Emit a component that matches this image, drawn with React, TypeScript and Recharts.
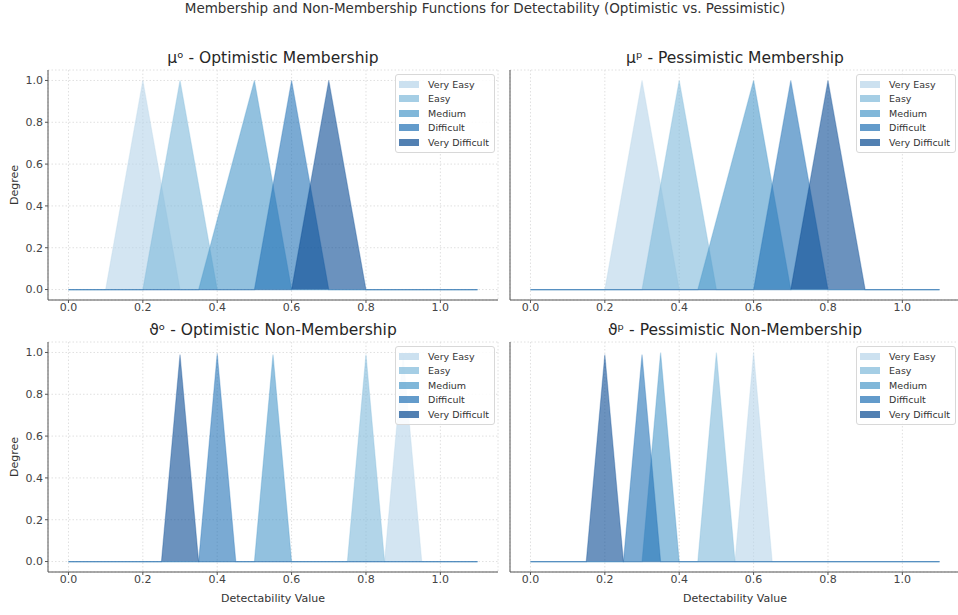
import React from "react";
import {
  ComposedChart,
  Area,
  XAxis,
  YAxis,
  CartesianGrid,
  Legend,
} from "recharts";

const FONT = "'DejaVu Sans', Verdana, sans-serif";

const LEVELS = ["Very Easy", "Easy", "Medium", "Difficult", "Very Difficult"];
// Blues colormap sampled from 0.3 to 0.9, drawn with alpha 0.6
const LEVEL_COLORS = ["#b6d4e9", "#7fb9da", "#4a98c9", "#2171b5", "#084a92"];
const FILL_ALPHA = 0.6;

const X_TICKS = [0, 0.2, 0.4, 0.6, 0.8, 1.0];
const Y_TICKS = [0, 0.2, 0.4, 0.6, 0.8, 1.0];
const X_START = 0;
const X_END = 1.1;

// triangles per level: [left foot, peak, right foot]
const OPT_MEMBERSHIP = [
  [0.1, 0.2, 0.3],
  [0.2, 0.3, 0.4],
  [0.35, 0.5, 0.6],
  [0.5, 0.6, 0.7],
  [0.6, 0.7, 0.8],
];
const OPT_MEMBERSHIP_PEAKS = [1, 1, 1, 1, 1];

const PES_MEMBERSHIP = [
  [0.2, 0.3, 0.4],
  [0.3, 0.4, 0.5],
  [0.45, 0.6, 0.7],
  [0.6, 0.7, 0.8],
  [0.7, 0.8, 0.9],
];
const PES_MEMBERSHIP_PEAKS = [1, 1, 1, 1, 1];

const OPT_NON_MEMBERSHIP = [
  [0.85, 0.9, 0.95],
  [0.75, 0.8, 0.85],
  [0.5, 0.55, 0.6],
  [0.35, 0.4, 0.45],
  [0.25, 0.3, 0.35],
];
const OPT_NON_MEMBERSHIP_PEAKS = [0.99, 0.99, 0.99, 0.995, 0.99];

const PES_NON_MEMBERSHIP = [
  [0.55, 0.6, 0.65],
  [0.45, 0.5, 0.55],
  [0.3, 0.35, 0.4],
  [0.25, 0.3, 0.35],
  [0.15, 0.2, 0.25],
];
const PES_NON_MEMBERSHIP_PEAKS = [1, 1, 1, 0.99, 0.99];

function trianglePoints(tri: number[], peak: number) {
  const [l, p, r] = tri;
  return [
    { x: X_START, y: 0 },
    { x: l, y: 0 },
    { x: p, y: peak },
    { x: r, y: 0 },
    { x: X_END, y: 0 },
  ];
}

function LegendBox() {
  return (
    <div
      style={{
        border: "1px solid #d8d8d8",
        borderRadius: 3,
        background: "rgba(255,255,255,0.85)",
        padding: "2px 5px 2px 3px",
        fontFamily: FONT,
        fontSize: 9.5,
        color: "#333",
      }}
    >
      {LEVELS.map((name, i) => (
        <div key={name} style={{ display: "flex", alignItems: "center", height: 14.5 }}>
          <span
            style={{
              display: "inline-block",
              width: 20,
              height: 7,
              background: LEVEL_COLORS[i],
              opacity: FILL_ALPHA + 0.1,
              marginRight: 9,
            }}
          />
          <span>{name}</span>
        </div>
      ))}
    </div>
  );
}

interface PanelProps {
  title: string;
  triangles: number[][];
  peaks: number[];
  left: number;
  top: number;
  width: number;
  height: number;
  showYLabels: boolean;
  showXLabel: boolean;
}

function Panel({ title, triangles, peaks, left, top, width, height, showYLabels, showXLabel }: PanelProps) {
  const yAxisWidth = showYLabels ? 48 : 10;
  const xAxisHeight = showXLabel ? 43 : 30;
  const marginRight = showYLabels ? 2 : 0;
  const plotLeft = yAxisWidth;
  const plotRight = width - marginRight;
  const tickStyle = { fontSize: 11, fill: "#444", fontFamily: FONT };

  return (
    <div style={{ position: "absolute", left, top, width, height }}>
      <div
        style={{
          position: "absolute",
          left: plotLeft,
          width: plotRight - plotLeft,
          top: -11,
          textAlign: "center",
          fontFamily: FONT,
          fontSize: 15.5,
          lineHeight: "18px",
          color: "#262626",
        }}
      >
        {title}
      </div>
      <ComposedChart
        width={width}
        height={height}
        margin={{ top: 10, right: marginRight, left: 0, bottom: 0 }}
      >
        <CartesianGrid stroke="#e0e0e0" strokeDasharray="1.5 2" />
        <XAxis
          type="number"
          dataKey="x"
          domain={[-0.055, 1.155]}
          ticks={X_TICKS}
          tickFormatter={(v: number) => v.toFixed(1)}
          tick={tickStyle}
          tickSize={3}
          tickMargin={0}
          height={xAxisHeight}
          stroke="#555"
          allowDataOverflow
          label={
            showXLabel
              ? {
                  value: "Detectability Value",
                  position: "insideBottom",
                  offset: 13,
                  style: { fontSize: 11, fill: "#333", fontFamily: FONT },
                }
              : undefined
          }
        />
        <YAxis
          type="number"
          domain={[-0.05, 1.05]}
          ticks={Y_TICKS}
          tickFormatter={(v: number) => v.toFixed(1)}
          tick={showYLabels ? tickStyle : false}
          tickSize={3}
          tickMargin={2}
          width={yAxisWidth}
          stroke="#555"
          allowDataOverflow
          label={
            showYLabels
              ? {
                  value: "Degree",
                  angle: -90,
                  position: "insideLeft",
                  offset: 14,
                  style: { fontSize: 11, fill: "#333", fontFamily: FONT, textAnchor: "middle" },
                }
              : undefined
          }
        />
        {LEVELS.map((name, i) => (
          <Area
            key={name}
            name={name}
            data={trianglePoints(triangles[i], peaks[i])}
            dataKey="y"
            type="linear"
            baseValue={0}
            fill={LEVEL_COLORS[i]}
            fillOpacity={FILL_ALPHA}
            stroke={LEVEL_COLORS[i]}
            strokeOpacity={0.3}
            strokeWidth={1.2}
            dot={false}
            activeDot={false}
            isAnimationActive={false}
          />
        ))}
        <Legend
          layout="vertical"
          align="center"
          verticalAlign="middle"
          wrapperStyle={{ top: 14, right: showYLabels ? 5 : 4, left: "auto", bottom: "auto", width: "auto" }}
          content={() => <LegendBox />}
        />
      </ComposedChart>
    </div>
  );
}

export default function App() {
  return (
    <div
      style={{
        position: "absolute",
        left: 0,
        top: 0,
        width: 958,
        height: 615,
        overflow: "hidden",
        background: "#fff",
      }}
    >
      <div
        style={{
          position: "absolute",
          left: 0,
          width: 970,
          top: -1,
          textAlign: "center",
          fontFamily: FONT,
          fontSize: 13.5,
          lineHeight: "18px",
          color: "#333",
        }}
      >
        Membership and Non-Membership Functions for Detectability (Optimistic vs. Pessimistic)
      </div>
      <Panel
        title="μᵒ - Optimistic Membership"
        triangles={OPT_MEMBERSHIP}
        peaks={OPT_MEMBERSHIP_PEAKS}
        left={0}
        top={60}
        width={500}
        height={270}
        showYLabels
        showXLabel={false}
      />
      <Panel
        title="μᵖ - Pessimistic Membership"
        triangles={PES_MEMBERSHIP}
        peaks={PES_MEMBERSHIP_PEAKS}
        left={500}
        top={60}
        width={460}
        height={270}
        showYLabels={false}
        showXLabel={false}
      />
      <Panel
        title="ϑᵒ - Optimistic Non-Membership"
        triangles={OPT_NON_MEMBERSHIP}
        peaks={OPT_NON_MEMBERSHIP_PEAKS}
        left={0}
        top={332}
        width={500}
        height={283}
        showYLabels
        showXLabel
      />
      <Panel
        title="ϑᵖ - Pessimistic Non-Membership"
        triangles={PES_NON_MEMBERSHIP}
        peaks={PES_NON_MEMBERSHIP_PEAKS}
        left={500}
        top={332}
        width={460}
        height={283}
        showYLabels={false}
        showXLabel
      />
    </div>
  );
}
